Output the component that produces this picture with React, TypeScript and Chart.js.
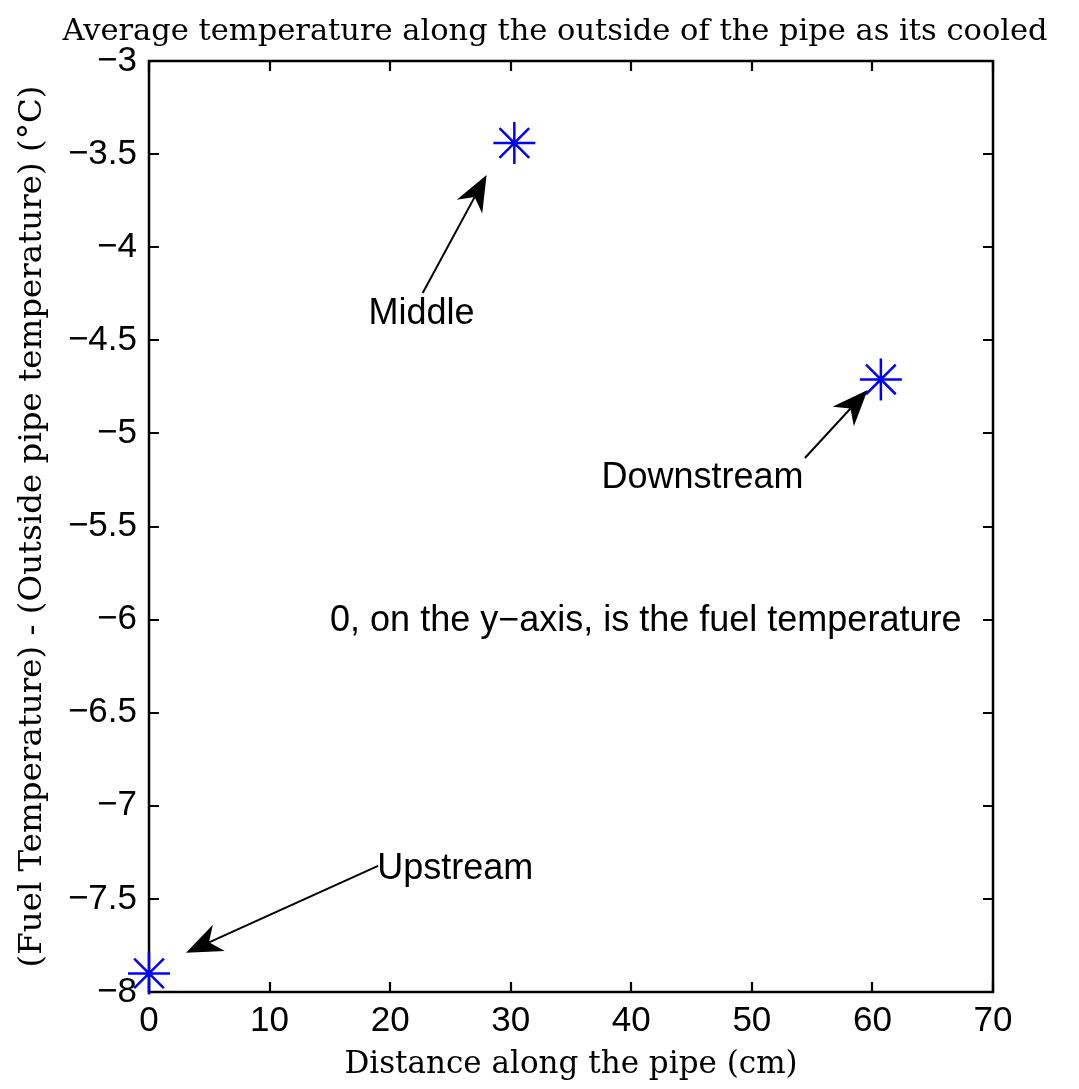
import { useEffect, useRef } from 'react';
import { Chart, registerables } from 'chart.js';

Chart.register(...registerables);

// ---------- data ----------
const TITLE = 'Average temperature along the outside of the pipe as its cooled';
const X_LABEL = 'Distance along the pipe (cm)';
const Y_LABEL = '(Fuel Temperature) - (Outside pipe temperature) (\u00B0C)';

const locations = ['Upstream', 'Middle', 'Downstream'];
const distanceCm = [0, 30.3, 60.7];
const tempDiff = [-7.9, -3.44, -4.71];

const X_MIN = 0;
const X_MAX = 70;
const X_STEP = 10;
const Y_MIN = -8;
const Y_MAX = -3;
const Y_STEP = 0.5;

// text-arrow annotations (data coordinates)
const arrowLabels = ['Upstream', 'Middle', 'Downstream'];
const arrowTailX = [19.0, 22.7, 54.4];
const arrowTailY = [-7.323, -4.246, -5.132];
const arrowHeadX = [3.07, 28.0, 59.6];
const arrowHeadY = [-7.789, -3.612, -4.767];
const labelX = [25.4, 22.6, 45.9];
const labelY = [-7.34, -4.36, -5.24];

const NOTE = '0, on the y\u2212axis, is the fuel temperature';
const noteX = [41.2];
const noteY = [-6.01];

// ---------- styles ----------
const SANS = "'Liberation Sans', Arial, Helvetica, sans-serif";
const SERIF = "'DejaVu Serif', serif";
const SANS_SIZE = 36;
const TICK_SIZE = 35;
const TITLE_SIZE = 30.5;
const XLABEL_SIZE = 31;
const YLABEL_SIZE = 32.5;

const fmt = (v: number) => String(v).replace('-', '\u2212');

const framePlugin = {
  id: 'matlabFrame',
  beforeDatasetsDraw(chart: any) {
    const { ctx, chartArea } = chart;
    const { left, right, top, bottom } = chartArea;
    const xs = chart.scales.x;
    const ys = chart.scales.y;
    const tl = 10;
    ctx.save();
    ctx.strokeStyle = '#000';
    ctx.lineWidth = 2.2;
    ctx.beginPath();
    xs.ticks.forEach((t: any) => {
      const p = Math.round(xs.getPixelForValue(t.value));
      ctx.moveTo(p, bottom);
      ctx.lineTo(p, bottom - tl);
      ctx.moveTo(p, top);
      ctx.lineTo(p, top + tl);
    });
    ys.ticks.forEach((t: any) => {
      const p = Math.round(ys.getPixelForValue(t.value));
      ctx.moveTo(left, p);
      ctx.lineTo(left + tl, p);
      ctx.moveTo(right, p);
      ctx.lineTo(right - tl, p);
    });
    ctx.stroke();
    ctx.lineWidth = 2.5;
    ctx.strokeRect(left, top, right - left, bottom - top);
    ctx.restore();
  },
  afterDraw(chart: any) {
    const { ctx } = chart;
    ctx.save();
    ctx.fillStyle = '#000';
    ctx.font = `${TITLE_SIZE}px ${SERIF}`;
    ctx.textAlign = 'center';
    ctx.textBaseline = 'alphabetic';
    ctx.fillText(TITLE, 555, 40);
    ctx.restore();
  },
};

function drawArrow(ctx: CanvasRenderingContext2D, x1: number, y1: number, x2: number, y2: number) {
  const dx = x2 - x1;
  const dy = y2 - y1;
  const len = Math.hypot(dx, dy);
  const ux = dx / len;
  const uy = dy / len;
  const nx = -uy;
  const ny = ux;
  const L = 36;
  const W = 14.5;
  const N = 0.7 * L;
  ctx.beginPath();
  ctx.moveTo(x1, y1);
  ctx.lineTo(x2 - ux * N, y2 - uy * N);
  ctx.stroke();
  ctx.beginPath();
  ctx.moveTo(x2, y2);
  ctx.lineTo(x2 - ux * L + nx * W, y2 - uy * L + ny * W);
  ctx.lineTo(x2 - ux * N, y2 - uy * N);
  ctx.lineTo(x2 - ux * L - nx * W, y2 - uy * L - ny * W);
  ctx.closePath();
  ctx.fill();
}

const annotationPlugin = {
  id: 'textArrows',
  afterDatasetsDraw(chart: any) {
    const { ctx } = chart;
    const xs = chart.scales.x;
    const ys = chart.scales.y;
    ctx.save();
    ctx.strokeStyle = '#000';
    ctx.fillStyle = '#000';
    ctx.lineWidth = 2;
    arrowLabels.forEach((lab, i) => {
      drawArrow(
        ctx,
        xs.getPixelForValue(arrowTailX[i]),
        ys.getPixelForValue(arrowTailY[i]),
        xs.getPixelForValue(arrowHeadX[i]),
        ys.getPixelForValue(arrowHeadY[i])
      );
      ctx.font = `${SANS_SIZE}px ${SANS}`;
      ctx.textAlign = 'center';
      ctx.textBaseline = 'middle';
      ctx.fillText(lab, xs.getPixelForValue(labelX[i]), ys.getPixelForValue(labelY[i]));
    });
    ctx.font = `${SANS_SIZE}px ${SANS}`;
    ctx.textAlign = 'center';
    ctx.textBaseline = 'middle';
    ctx.fillText(NOTE, xs.getPixelForValue(noteX[0]), ys.getPixelForValue(noteY[0]));
    ctx.restore();
  },
};

export default function App() {
  const ref = useRef<HTMLCanvasElement>(null);
  useEffect(() => {
    document.body.style.margin = '0';
    const canvas = ref.current;
    if (!canvas) return;
    const chart = new Chart(canvas, {
      type: 'scatter',
      data: {
        datasets: [
          {
            label: 'Temperature difference',
            data: distanceCm.map((x, i) => ({ x, y: tempDiff[i], name: locations[i] })),
            showLine: false,
            pointStyle: 'star',
            pointRadius: 21,
            pointHoverRadius: 21,
            pointBorderWidth: 2.5,
            borderColor: '#0000ff',
            backgroundColor: '#0000ff',
            clip: false,
          } as any,
        ],
      },
      options: {
        responsive: false,
        devicePixelRatio: 1,
        animation: false,
        events: [],
        layout: { padding: { left: 0, right: 86, top: 61, bottom: 0 } },
        plugins: {
          legend: { display: false },
          tooltip: { enabled: false },
          title: { display: false },
        },
        scales: {
          x: {
            type: 'linear',
            min: X_MIN,
            max: X_MAX,
            grid: { display: false, drawTicks: false },
            border: { display: false },
            ticks: {
              stepSize: X_STEP,
              color: '#000',
              font: { family: SANS, size: TICK_SIZE },
              padding: 8,
              maxRotation: 0,
              callback: (v: any) => fmt(Number(v)),
            },
            title: {
              display: true,
              text: X_LABEL,
              color: '#000',
              font: { family: SERIF, size: XLABEL_SIZE },
              padding: { top: 0, bottom: 5 },
            },
            afterFit: (s: any) => {
              s.height = 97;
            },
          },
          y: {
            type: 'linear',
            min: Y_MIN,
            max: Y_MAX,
            grid: { display: false, drawTicks: false },
            border: { display: false },
            ticks: {
              stepSize: Y_STEP,
              color: '#000',
              font: { family: SANS, size: TICK_SIZE },
              padding: 12,
              callback: (v: any) => fmt(Number(v)),
            },
            title: {
              display: true,
              text: Y_LABEL,
              color: '#000',
              font: { family: SERIF, size: YLABEL_SIZE },
              padding: { top: 13, bottom: 0 },
            },
            afterFit: (s: any) => {
              s.width = 149;
            },
          },
        },
      },
      plugins: [framePlugin, annotationPlugin],
    });
    return () => chart.destroy();
  }, []);
  return (
    <div style={{ position: 'absolute', left: 0, top: 0 }}>
      <canvas ref={ref} width={1079} height={1089} style={{ display: 'block', width: 1079, height: 1089 }} />
    </div>
  );
}
